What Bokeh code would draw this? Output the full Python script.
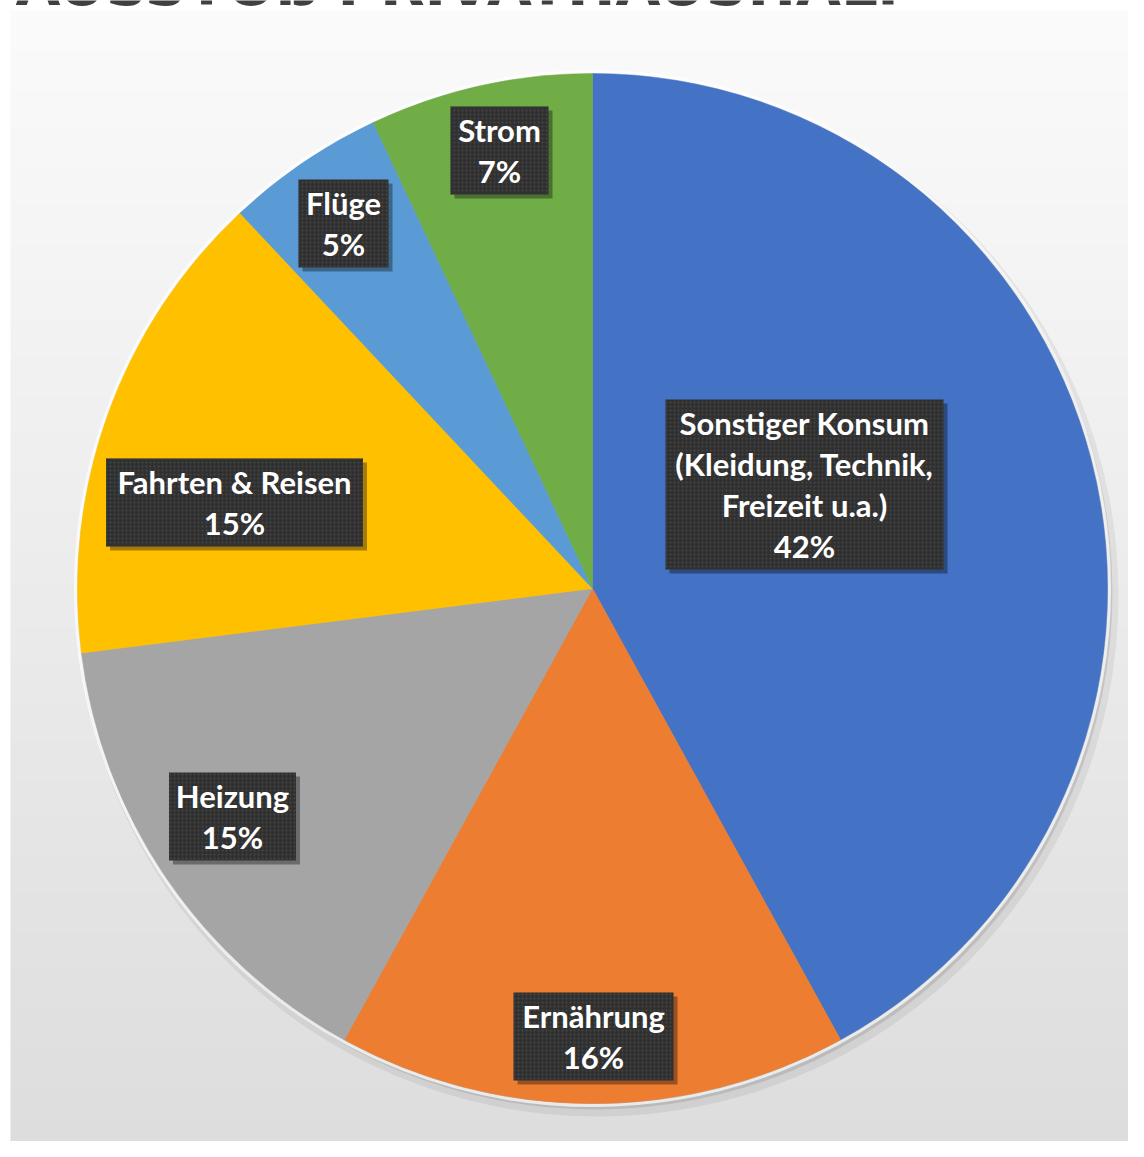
import numpy as np
from bokeh.plotting import figure
from bokeh.models import Range1d, ColumnDataSource
from bokeh.core.properties import value
from bokeh.embed import file_html
from bokeh.resources import INLINE

# ---------------- data ----------------
title_text = "AUSSTOß PRIVATHAUSHALT"
categories = ["Sonstiger Konsum", "Ernährung", "Heizung", "Fahrten & Reisen", "Flüge", "Strom"]
label_lines = [
    ["Sonstiger Konsum", "(Kleidung, Technik,", "Freizeit u.a.)"],
    ["Ernährung"],
    ["Heizung"],
    ["Fahrten & Reisen"],
    ["Flüge"],
    ["Strom"],
]
shares = [42, 16, 15, 15, 5, 7]

# ---------------- style / layout ----------------
colors = ["#4472C4", "#ED7D31", "#A5A5A5", "#FFC000", "#5B9BD5", "#70AD47"]
W, H = 1128, 1141
R = 515
label_pos = [(212, 104), (1, -448), (-360, -228), (-358, 86), (-249, 365), (-93, 438)]
box_w = [278, 160, 127, 257, 90, 98]
LINE = 41
FONT = value("Lato")

p = figure(width=W, height=H, x_range=Range1d(-592, 536), y_range=Range1d(-553, 588),
           output_backend="svg", toolbar_location=None,
           x_axis_location=None, y_axis_location=None, min_border=0)
p.grid.visible = False
p.outline_line_color = None
p.background_fill_color = "white"
p.border_fill_color = "white"

# background panel with vertical gradient
n = 256
img = np.empty((n, 1), dtype=np.uint32)
view = img.view(dtype=np.uint8).reshape((n, 1, 4))
shade = np.linspace(0xDD, 0xFB, n).astype(np.uint8)
view[:, 0, 0] = shade
view[:, 0, 1] = shade
view[:, 0, 2] = shade
view[:, 0, 3] = 255
p.image_rgba(image=[img], x=-582, y=-575, dw=1140, dh=1153)

# title (cropped at top, as in the reference)
p.text(x=[-577], y=[570], text=[title_text], text_font=value("DejaVu Sans"),
       text_font_style="bold", text_font_size="58px", text_color="#404040",
       text_baseline="bottom", text_align="left")

# pie shadow / halo
p.circle(x=[5], y=[-7], radius=R + 6, fill_color="black", fill_alpha=0.06, line_color=None)
p.circle(x=[3], y=[-4], radius=R + 2, fill_color="black", fill_alpha=0.10, line_color=None)
p.circle(x=[0], y=[0], radius=R + 2, fill_color=None, line_color="white", line_alpha=0.7, line_width=3)

# wedges, clockwise from 12 o'clock
frac = np.array(shares, dtype=float) / np.sum(shares)
cum_end = np.cumsum(frac)
cum_start = cum_end - frac
src = ColumnDataSource(dict(
    cat=categories, share=shares, color=colors,
    start=np.pi / 2 - 2 * np.pi * cum_end,
    end=np.pi / 2 - 2 * np.pi * cum_start,
))
p.wedge(x=0, y=0, radius=R, start_angle="start", end_angle="end", direction="anticlock",
        fill_color="color", line_color="color", line_width=0.5, source=src)

# data labels
bx, by, bw, bh, sx, sy = [], [], [], [], [], []
tx, ty, tt = [], [], []
for i, lines in enumerate(label_lines):
    all_lines = lines + [f"{shares[i]}%"]
    k = len(all_lines)
    cx, cy = label_pos[i]
    h = k * LINE + 6
    bx.append(cx); by.append(cy); bw.append(box_w[i]); bh.append(h)
    sx.append(cx + 4); sy.append(cy - 4)
    for j, t in enumerate(all_lines):
        tx.append(cx)
        ty.append(cy + (k - 1) / 2 * LINE - j * LINE)
        tt.append(t)

p.rect(x=sx, y=sy, width=bw, height=bh, fill_color="black", fill_alpha=0.35, line_color=None)
p.rect(x=bx, y=by, width=bw, height=bh, fill_color="#303030", line_color=None,
       hatch_pattern="dot", hatch_color="#474747", hatch_scale=4, hatch_weight=1)
p.text(x=tx, y=ty, text=tt, text_font=FONT, text_font_style="bold", text_font_size="31px",
       text_color="white", text_align="center", text_baseline="middle")

open("out.html", "w").write(file_html(p, INLINE))
